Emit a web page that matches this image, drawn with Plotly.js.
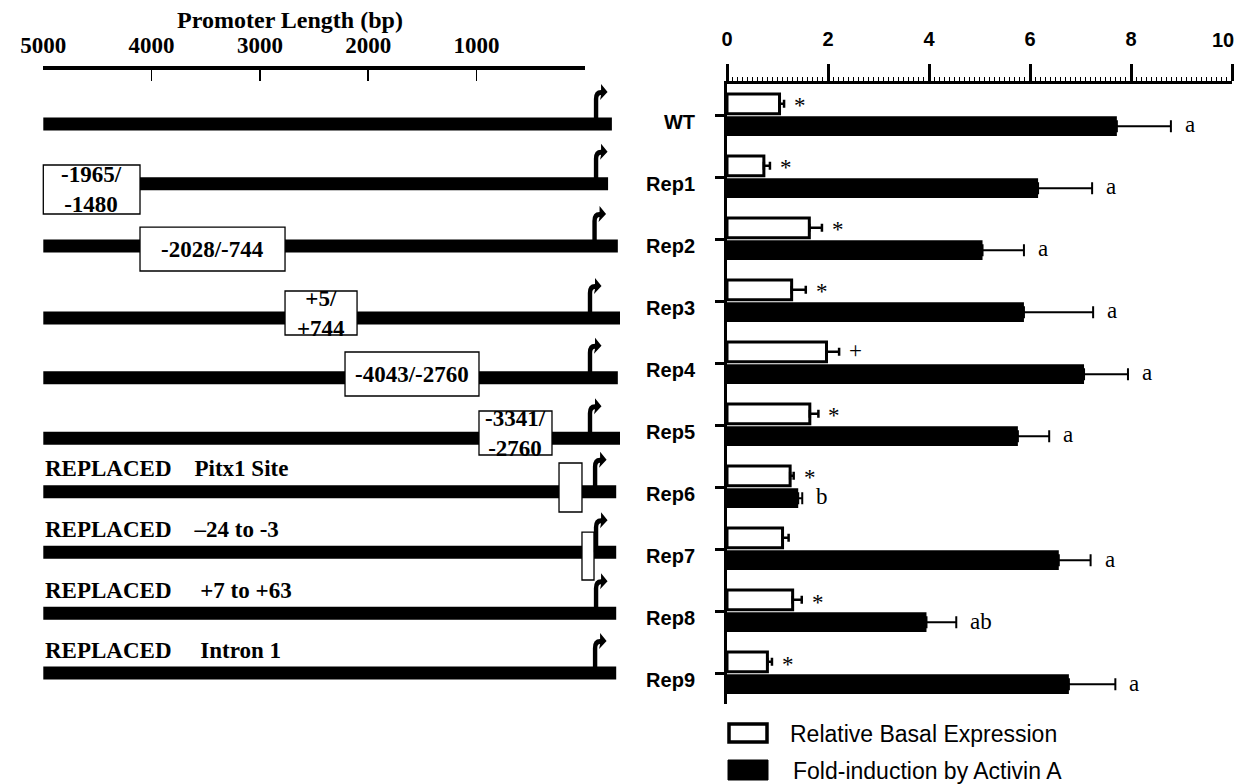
<!DOCTYPE html>
<html><head><meta charset="utf-8">
<script src="https://cdn.plot.ly/plotly-3.0.1.min.js"></script>
<style>html,body{margin:0;padding:0;background:#fff}#chart{width:1237px;height:784px}</style>
</head><body><div id="chart"></div>
<script>
// ---------- right panel data ----------
const categories = ['WT','Rep1','Rep2','Rep3','Rep4','Rep5','Rep6','Rep7','Rep8','Rep9'];
const basal      = [1.04, 0.73, 1.63, 1.28, 1.97, 1.64, 1.25, 1.10, 1.30, 0.80];
const basalErr   = [0.09, 0.12, 0.25, 0.28, 0.25, 0.17, 0.07, 0.12, 0.18, 0.09];
const induction    = [7.72, 6.16, 5.06, 5.88, 7.07, 5.76, 1.41, 6.57, 3.95, 6.77];
const inductionErr = [1.07, 1.07, 0.82, 1.37, 0.87, 0.62, 0.08, 0.63, 0.59, 0.92];
const basalMarks     = ['*','*','*','*','+','*','*','','*','*'];
const inductionMarks = ['a','a','a','a','a','a','b','a','ab','a'];
const xTickVals = [0,2,4,6,8,10];
const xTickText = ['0','2','4','6','8','10'];
const seriesNames = ['Relative Basal Expression','Fold-induction by Activin A'];

// ---------- left panel (promoter schematic) data ----------
const promoterTicks = [5000,4000,3000,2000,1000];
const constructRow  = [0, 0.98, 2.0, 3.18, 4.16, 5.15, 6.03, 7.02, 8.02, 9.0];
const lineStart     = [5000,5000,5000,5000,5000,5000,5000,5000,5000,5000];
const lineEnd       = [-250,-215,-305,-325,-305,-325,-290,-290,-290,-290];
const tssPos        = [-104,-104,-90,-48,-48,-48,-95,-104,-104,-95];
const boxConstruct  = [1,2,3,4,5,6,7];
const boxStart      = [5000,4107,2768,2214,977,238,26];
const boxEnd        = [4107,2768,2103,977,303,26,-85];
const boxTop        = [0.672,1.689,2.738,3.738,4.705,5.557,6.689];
const boxBottom     = [1.475,2.41,3.459,4.459,5.426,6.361,7.475];
const boxLabels     = ['-1965/<br>-1480','-2028/-744','+5/<br>+744','-4043/-2760','-3341/<br>-2760','',''];
const replacedConstruct = [6,7,8,9];
const replacedLabels = ['REPLACED\u00a0\u00a0\u00a0\u00a0Pitx1 Site','REPLACED\u00a0\u00a0\u00a0\u00a0\u201324 to -3',
                        'REPLACED\u00a0\u00a0\u00a0\u00a0\u00a0+7 to +63','REPLACED\u00a0\u00a0\u00a0\u00a0\u00a0Intron 1'];

// ---------- layout geometry ----------
const W = 1237, H = 784;
const fx = p => p / W, fy = p => 1 - p / H;
const bpLeftPx = 43.3, bpZeroPx = 584.8;
const s = (bpZeroPx - bpLeftPx) / 5000;
const x2range = [5000 + bpLeftPx / s, 5000 - (640 - bpLeftPx) / s];
const rowTopPx = 124, rowStepPx = 61, axisTopPx = 70;
const y2range = [(H - rowTopPx) / rowStepPx, (axisTopPx - rowTopPx) / rowStepPx];

const serif = 'Liberation Serif, Times New Roman, serif';
const sans = 'Liberation Sans, Arial, sans-serif';

// construct lines
const lx = [], ly = [];
constructRow.forEach((r, i) => { lx.push(lineStart[i], lineEnd[i], null); ly.push(r, r, null); });

const traces = [
  { type:'scatter', mode:'lines', x:lx, y:ly, xaxis:'x2', yaxis:'y2',
    line:{color:'black', width:13}, hoverinfo:'skip', showlegend:false },
  // carries the promoter-length scale axis (no visible marks)
  { type:'scatter', mode:'lines', x:[promoterTicks[0], 0], y:[null, null], xaxis:'x3', yaxis:'y2',
    line:{width:0}, hoverinfo:'skip', showlegend:false },
  { type:'bar', orientation:'h', name:seriesNames[0], y:categories, x:basal,
    marker:{color:'white', line:{color:'black', width:3}},
    error_x:{type:'data', symmetric:false, array:basalErr, arrayminus:basal.map(()=>0),
             color:'black', thickness:2.5, width:4},
    showlegend:false },
  { type:'bar', orientation:'h', name:seriesNames[1], y:categories, x:induction,
    marker:{color:'black', line:{color:'black', width:0}},
    error_x:{type:'data', symmetric:false, array:inductionErr, arrayminus:induction.map(()=>0),
             color:'black', thickness:2, width:6},
    showlegend:false }
];

const shapes = [];
const annotations = [];

// boxes
boxConstruct.forEach((c, i) => {
  shapes.push({type:'rect', xref:'x2', yref:'y2', x0:boxStart[i], x1:boxEnd[i],
    y0:boxTop[i], y1:boxBottom[i], fillcolor:'white', line:{color:'black', width:1.3}, layer:'above'});
  if (boxLabels[i]) annotations.push({xref:'x2', yref:'y2', x:(boxStart[i]+boxEnd[i])/2,
    y:(boxTop[i]+boxBottom[i])/2, text:boxLabels[i], showarrow:false,
    font:{family:serif, size:23, weight:'bold', color:'black'}});
});
// TSS arrows
const arrowPath = 'M -2.2 0 L 2.2 0 L 2.2 25 Q 2.2 29 5 29 L 4 24 L 11.5 32 L 5 40 L 5 34 Q -2.2 34 -2.2 25 Z';
constructRow.forEach((r, i) => {
  shapes.push({type:'path', xref:'x2', yref:'y2', xsizemode:'pixel', ysizemode:'pixel',
    xanchor:tssPos[i], yanchor:r, path:arrowPath, fillcolor:'black', line:{width:0}});
});
// replaced labels
replacedConstruct.forEach((c, i) => {
  annotations.push({xref:'x2', yref:'y2', x:5000, y:constructRow[c], yshift:23, xanchor:'left',
    text:replacedLabels[i], showarrow:false, font:{family:serif, size:23, weight:'bold', color:'black'}});
});
// significance marks
categories.forEach((c, i) => {
  if (basalMarks[i]) annotations.push({xref:'x', yref:'y', x:basal[i]+basalErr[i], y:c,
    xanchor:'left', xshift:8, yshift: basalMarks[i]==='+' ? 12 : 9, text:basalMarks[i], showarrow:false,
    font:{family:serif, size:23, color:'black'}});
  if (inductionMarks[i]) annotations.push({xref:'x', yref:'y', x:induction[i]+inductionErr[i], y:c,
    xanchor:'left', xshift:12, yshift:-10, text:inductionMarks[i], showarrow:false,
    font:{family:serif, size:23, color:'black'}});
});
// last value-axis label, kept inside the page edge
const lastTick = xTickVals.length - 1;
annotations.push({xref:'x', yref:'paper', x:xTickVals[lastTick], y:fy(40), xanchor:'right', yanchor:'middle',
  xshift:4, text:xTickText[lastTick], showarrow:false,
  font:{family:sans, size:20, weight:'bold', color:'black'}});
// legend (drawn manually for large swatches)
shapes.push({type:'rect', xref:'paper', yref:'paper', x0:fx(729), x1:fx(767), y0:fy(724), y1:fy(742),
  fillcolor:'white', line:{color:'black', width:3.5}});
shapes.push({type:'rect', xref:'paper', yref:'paper', x0:fx(728), x1:fx(768), y0:fy(760), y1:fy(780),
  fillcolor:'black', line:{color:'black', width:1}});
annotations.push({xref:'paper', yref:'paper', x:fx(788), y:fy(734), xanchor:'left', yanchor:'middle',
  text:seriesNames[0], showarrow:false, font:{family:sans, size:23, color:'black'}});
annotations.push({xref:'paper', yref:'paper', x:fx(791), y:fy(771), xanchor:'left', yanchor:'middle',
  text:seriesNames[1], showarrow:false, font:{family:sans, size:23, color:'black'}});

const layout = {
  width:W, height:H, autosize:false,
  margin:{l:0, r:0, t:0, b:0, pad:0},
  paper_bgcolor:'white', plot_bgcolor:'rgba(0,0,0,0)',
  showlegend:false, barmode:'group', bargap:0.28, bargroupgap:0.12,
  title:{text:'Promoter Length (bp)', x:fx(290), xanchor:'center', y:fy(20), yanchor:'middle',
         font:{family:serif, size:24, weight:'bold', color:'black'}},
  xaxis:{domain:[fx(727), fx(1232)], range:[0,10], anchor:'y', side:'top',
    showline:true, linewidth:3, linecolor:'black', ticks:'outside', ticklen:17, tickwidth:3, tickcolor:'black',
    tickvals:xTickVals, ticktext:xTickText.map((t, i) => i === lastTick ? '' : t),
    tickfont:{family:sans, size:20, weight:'bold', color:'black'},
    ticklabelstandoff:10, showgrid:false, zeroline:false, fixedrange:true,
    minor:{dtick:0.1, ticks:'outside', ticklen:4, tickwidth:1, tickcolor:'black', showgrid:false}},
  yaxis:{domain:[fy(704), fy(84)], type:'category', categoryarray:categories, categoryorder:'array',
    range:[categories.length-0.5, -0.5], anchor:'x',
    showline:true, linewidth:3, linecolor:'black', ticks:'outside', ticklen:9, tickwidth:3, tickcolor:'black',
    tickfont:{family:sans, size:20, weight:'bold', color:'black'}, ticklabelstandoff:16, ticklabelshift:-7,
    showgrid:false, zeroline:false, fixedrange:true},
  xaxis2:{domain:[0, fx(640)], range:x2range, anchor:'y2', visible:false, fixedrange:true},
  yaxis2:{domain:[0, fy(axisTopPx)], range:y2range, anchor:'x2', visible:false, fixedrange:true},
  xaxis3:{domain:[fx(bpLeftPx), fx(bpZeroPx)], range:[5000,0], anchor:'y2', side:'top',
    showline:true, linewidth:4, linecolor:'black', ticks:'inside', ticklen:11, tickwidth:1.5, tickcolor:'black',
    tickvals:promoterTicks, ticktext:promoterTicks.map(String),
    tickfont:{family:serif, size:23, weight:'bold', color:'black'}, ticklabelstandoff:4,
    ticklabeloverflow:'allow', showgrid:false, zeroline:false, fixedrange:true},
  shapes:shapes, annotations:annotations
};

Plotly.newPlot('chart', traces, layout, {staticPlot:true, displayModeBar:false});
</script></body></html>
